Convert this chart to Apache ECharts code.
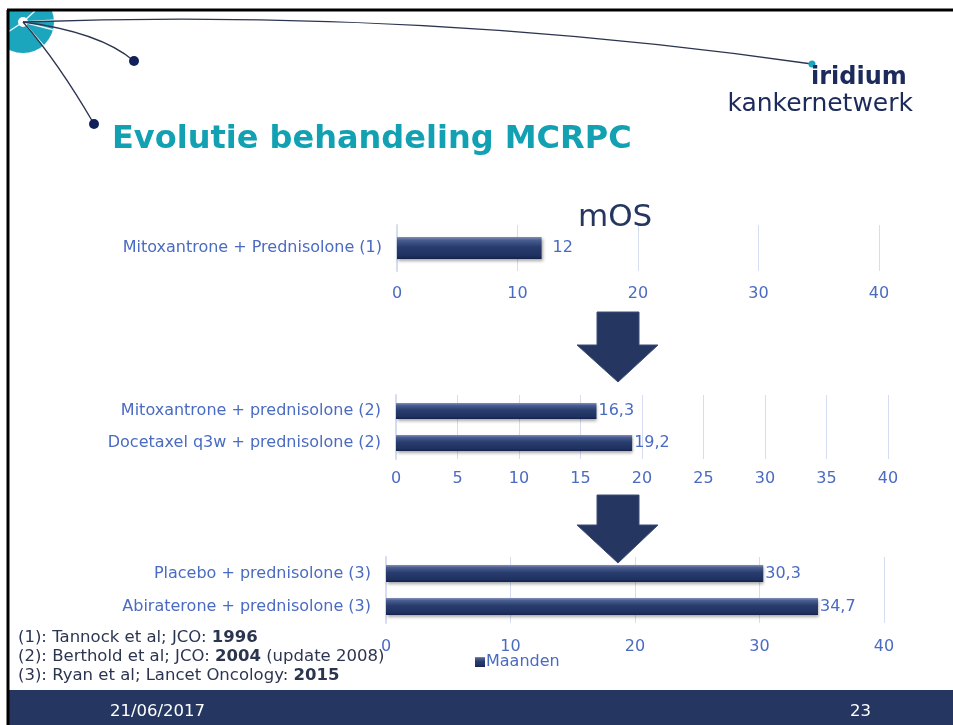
<!DOCTYPE html>
<html>
<head>
<meta charset="utf-8">
<script src="https://cdn.jsdelivr.net/npm/echarts@6/dist/echarts.min.js"></script>
<style>
  html, body { margin: 0; padding: 0; background: #fff; }
  #chart { width: 953px; height: 725px; }
</style>
</head>
<body>
<div id="chart"></div>
<script>
// chart data
const cats1 = ['Mitoxantrone + Prednisolone (1)'];
const vals1 = [12];
const cats2 = ['Mitoxantrone + prednisolone (2)', 'Docetaxel q3w + prednisolone (2)'];
const vals2 = [16.3, 19.2];
const cats3 = ['Placebo + prednisolone (3)', 'Abiraterone + prednisolone (3)'];
const vals3 = [30.3, 34.7];
const seriesName = 'Maanden';

const navy = '#253760';
const labelBlue = '#4a6bc2';
const font = 'DejaVu Sans';

const barColor = new echarts.graphic.LinearGradient(0, 0, 0, 1, [
    { offset: 0, color: '#8090b8' },
    { offset: 0.15, color: '#4a5d90' },
    { offset: 0.45, color: '#283c6e' },
    { offset: 0.85, color: '#1f3160' },
    { offset: 1, color: '#15224a' }
]);

function fmt(p) {
    return String(p.value).replace('.', ',');
}

function valueAxis(gridIndex, interval, margin) {
    return {
        gridIndex: gridIndex,
        type: 'value',
        min: 0,
        max: 40,
        interval: interval,
        axisLine: { show: false },
        axisTick: { show: false },
        splitLine: { show: true, lineStyle: { color: '#d6ddf0', width: 1 } },
        axisLabel: { color: labelBlue, fontFamily: font, fontSize: 16, margin: margin }
    };
}

function catAxis(gridIndex, data) {
    return {
        gridIndex: gridIndex,
        type: 'category',
        inverse: true,
        data: data,
        axisLine: { show: true, lineStyle: { color: '#d6ddf0', width: 2 } },
        axisTick: { show: false },
        axisLabel: { color: labelBlue, fontFamily: font, fontSize: 16, margin: 15 }
    };
}

function barSeries(idx, data, width, dist) {
    return {
        name: seriesName,
        type: 'bar',
        xAxisIndex: idx,
        yAxisIndex: idx,
        data: data,
        barWidth: width,
        itemStyle: {
            color: barColor,
            shadowColor: 'rgba(0,0,0,0.35)',
            shadowBlur: 3,
            shadowOffsetX: 1,
            shadowOffsetY: 2
        },
        label: {
            show: true,
            position: 'right',
            distance: dist,
            formatter: fmt,
            color: labelBlue,
            fontFamily: font,
            fontSize: 16
        }
    };
}

const chart = echarts.init(document.getElementById('chart'), null, { renderer: 'canvas' });

chart.setOption({
    backgroundColor: '#ffffff',
    animation: false,
    grid: [
        { left: 397, width: 482, top: 225, height: 46 },
        { left: 396, width: 492, top: 395, height: 64 },
        { left: 386, width: 498, top: 557, height: 66 }
    ],
    xAxis: [valueAxis(0, 10, 15), valueAxis(1, 5, 12), valueAxis(2, 10, 16)],
    yAxis: [catAxis(0, cats1), catAxis(1, cats2), catAxis(2, cats3)],
    legend: {
        left: 470,
        top: 649,
        itemWidth: 10,
        itemHeight: 10,
        itemGap: 4,
        icon: 'rect',
        data: [seriesName],
        textStyle: { color: labelBlue, fontFamily: font, fontSize: 16, padding: [0, 0, 0, -4] }
    },
    series: [
        barSeries(0, vals1, 22, 11),
        barSeries(1, vals2, 16, 2),
        barSeries(2, vals3, 17, 2)
    ],
    graphic: [
        // slide decoration
        { type: 'circle', shape: { cx: 23, cy: 22, r: 31 }, style: { fill: '#1ba6bd' }, z: 1 },
        { type: 'line', shape: { x1: 23, y1: 22, x2: 56, y2: 20 }, style: { stroke: '#e6f6f9', lineWidth: 1.5 }, z: 2 },
        { type: 'line', shape: { x1: 23, y1: 22, x2: 54, y2: 30 }, style: { stroke: '#e6f6f9', lineWidth: 1.5 }, z: 2 },
        { type: 'line', shape: { x1: 23, y1: 22, x2: 44, y2: 46 }, style: { stroke: '#e6f6f9', lineWidth: 1.5 }, z: 2 },
        { type: 'line', shape: { x1: 23, y1: 22, x2: 8, y2: 32 }, style: { stroke: '#e6f6f9', lineWidth: 1.5 }, z: 2 },
        { type: 'line', shape: { x1: 23, y1: 22, x2: 36, y2: 10 }, style: { stroke: '#e6f6f9', lineWidth: 1.5 }, z: 2 },
        { type: 'circle', shape: { cx: 23, cy: 22, r: 5 }, style: { fill: '#ffffff' }, z: 3 },
        { type: 'bezierCurve', shape: { x1: 23, y1: 22, cpx1: 420, cpy1: 8, x2: 812, y2: 64 }, style: { stroke: '#2c3550', lineWidth: 1.3, fill: null }, z: 3 },
        { type: 'bezierCurve', shape: { x1: 23, y1: 22, cpx1: 100, cpy1: 32, x2: 134, y2: 61 }, style: { stroke: '#2c3550', lineWidth: 1.3, fill: null }, z: 3 },
        { type: 'bezierCurve', shape: { x1: 23, y1: 22, cpx1: 58, cpy1: 62, x2: 94, y2: 124 }, style: { stroke: '#2c3550', lineWidth: 1.3, fill: null }, z: 3 },
        { type: 'circle', shape: { cx: 134, cy: 61, r: 5 }, style: { fill: '#102058' }, z: 4 },
        { type: 'circle', shape: { cx: 94, cy: 124, r: 5 }, style: { fill: '#102058' }, z: 4 },
        { type: 'circle', shape: { cx: 812, cy: 64, r: 3.5 }, style: { fill: '#1ba6bd' }, z: 4 },
        // clip outside border
        { type: 'rect', shape: { x: 0, y: 0, width: 7, height: 725 }, style: { fill: '#ffffff' }, z: 5 },
        { type: 'rect', shape: { x: 0, y: 0, width: 953, height: 9 }, style: { fill: '#ffffff' }, z: 5 },
        { type: 'line', shape: { x1: 7, y1: 10, x2: 953, y2: 10 }, style: { stroke: '#000', lineWidth: 3 }, z: 6 },
        { type: 'line', shape: { x1: 8, y1: 10, x2: 8, y2: 725 }, style: { stroke: '#000', lineWidth: 3 }, z: 6 },
        // logo
        { type: 'text', left: 811, top: 66, style: { text: 'iridium', fill: '#1c2a5c', font: 'bold 24px "DejaVu Sans"' }, z: 6 },
        { type: 'text', right: 40, top: 92, style: { text: 'kankernetwerk', fill: '#1c2a5c', font: '25px "DejaVu Sans"' }, z: 6 },
        // titles
        { type: 'text', left: 112, top: 124, style: { text: 'Evolutie behandeling MCRPC', fill: '#12a0b3', font: 'bold 32px "DejaVu Sans"' }, z: 6 },
        { type: 'text', left: 578, top: 202, style: { text: 'mOS', fill: navy, font: '31px "DejaVu Sans"' }, z: 6 },
        // arrows
        { type: 'polygon', shape: { points: [[597, 312], [639, 312], [639, 345], [658, 345], [618, 382], [577, 345], [597, 345]] }, style: { fill: navy, stroke: '#3b4d7a', lineWidth: 1 }, z: 6 },
        { type: 'polygon', shape: { points: [[597, 495], [639, 495], [639, 525], [658, 525], [618, 563], [577, 525], [597, 525]] }, style: { fill: navy, stroke: '#3b4d7a', lineWidth: 1 }, z: 6 },
        // references
        {
            type: 'text', left: 18, top: 628, z: 6,
            style: {
                text: '(1): Tannock et al; JCO: {b|1996}\n(2): Berthold et al; JCO: {b|2004} (update 2008)\n(3): Ryan et al; Lancet Oncology: {b|2015}',
                fill: '#2c3550',
                font: '16.5px "DejaVu Sans"',
                lineHeight: 19,
                rich: { b: { fontWeight: 'bold', fontSize: 16.5, fontFamily: font, fill: '#2c3550', lineHeight: 19 } }
            }
        },
        // footer
        { type: 'rect', shape: { x: 9, y: 690, width: 944, height: 35 }, style: { fill: navy }, z: 5 },
        { type: 'text', left: 110, top: 703, style: { text: '21/06/2017', fill: '#ffffff', font: '16.5px "DejaVu Sans"' }, z: 6 },
        { type: 'text', left: 850, top: 703, style: { text: '23', fill: '#ffffff', font: '16.5px "DejaVu Sans"' }, z: 6 }
    ]
});
</script>
</body>
</html>
